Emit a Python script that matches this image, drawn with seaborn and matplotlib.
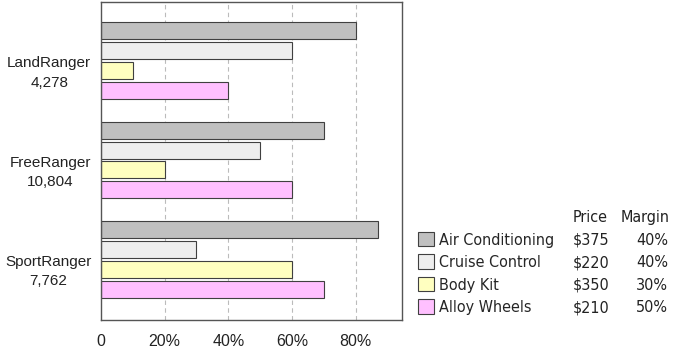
import matplotlib
matplotlib.use("Agg")
import matplotlib.pyplot as plt
from matplotlib import font_manager
from matplotlib.patches import Patch
from matplotlib.ticker import FuncFormatter
from matplotlib.transforms import ScaledTranslation
import pandas as pd
import seaborn as sns

# datos
modelos = ["LandRanger\n4,278", "FreeRanger\n10,804", "SportRanger\n7,762"]
opciones = ["Air Conditioning", "Cruise Control", "Body Kit", "Alloy Wheels"]
precios = ["$375", "$220", "$350", "$210"]
margenes = ["40%", "40%", "30%", "50%"]
land = [80, 60, 10, 40]
free = [70, 50, 20, 60]
sport = [87, 30, 60, 70]
colores = ["#c0c0c0", "#eeeeee", "#ffffc0", "#ffc0ff"]

filas = []
for modelo, vals in zip(modelos, [land, free, sport]):
    for op, v in zip(opciones, vals):
        filas.append({"modelo": modelo, "opcion": op, "valor": v})
df = pd.DataFrame(filas)

# fuente condensada si esta instalada
condensada = any(f.name == "DejaVu Sans" and f.stretch == "condensed"
                 for f in font_manager.fontManager.ttflist)

sns.set_style("white")
plt.rcParams["font.family"] = ["DejaVu Sans"]

fig = plt.figure(figsize=(6.75, 3.54), dpi=100)
ax = fig.add_axes([101 / 675, 34 / 354, 301 / 675, 318 / 354])

sns.barplot(data=df, y="modelo", x="valor", hue="opcion", hue_order=opciones,
            palette=colores, saturation=1, orient="h", width=0.8, gap=0.15,
            edgecolor="#404040", linewidth=0.8, legend=False, ax=ax)

ax.set_xlim(0, 94.6)
ax.set_ylim(2.61, -0.59)
ax.set_xticks([0, 20, 40, 60, 80])
ax.xaxis.set_major_formatter(FuncFormatter(lambda v, p: "0" if v == 0 else f"{v:.0f}%"))
for x in [20, 40, 60, 80]:
    ax.axvline(x, color="#bbbbbb", linestyle=(0, (4, 3)), linewidth=0.8, zorder=0)
ax.set_xlabel("")
ax.set_ylabel("")
ax.tick_params(axis="both", length=0, colors="#222222")
ax.tick_params(axis="x", pad=10, labelsize=11.5)
ax.tick_params(axis="y", pad=7, labelsize=11)
bajar = ScaledTranslation(0, -0.08, fig.dpi_scale_trans)
for lbl in ax.get_yticklabels():
    lbl.set_multialignment("center")
    lbl.set_family("Liberation Sans")
    lbl.set_linespacing(1.5)
    lbl.set_transform(lbl.get_transform() + bajar)
for lbl in ax.get_xticklabels():
    lbl.set_family("Liberation Sans")
for s in ax.spines.values():
    s.set_color("#555555")
    s.set_linewidth(1)

# leyenda con columnas de precio y margen
fuente = {"family": "DejaVu Sans", "size": 11.5 if condensada else 10.3}
if condensada:
    fuente["stretch"] = "condensed"
handles = [Patch(facecolor=c, edgecolor="#404040", linewidth=0.8) for c in colores]
leg = fig.legend(handles, opciones, loc="upper left",
                 bbox_to_anchor=(418 / 675, 1 - 232 / 354), frameon=False,
                 prop=fuente, handlelength=1.0, handleheight=1.0,
                 handletextpad=0.3, labelspacing=0.43, borderpad=0, borderaxespad=0)
fig.canvas.draw()
inv = fig.transFigure.inverted()
ys = []
for t in leg.get_texts():
    bb = t.get_window_extent()
    ys.append(inv.transform((0, (bb.y0 + bb.y1) / 2))[1])
for y, p, m in zip(ys, precios, margenes):
    fig.text(591 / 675, y, p, ha="center", va="center", fontproperties=fuente, color="#222222")
    fig.text(668 / 675, y, m, ha="right", va="center", fontproperties=fuente, color="#222222")
head_y = ys[0] + (ys[0] - ys[1])
fig.text(590 / 675, head_y, "Price", ha="center", va="center", fontproperties=fuente, color="#222222")
fig.text(670 / 675, head_y, "Margin", ha="right", va="center", fontproperties=fuente, color="#222222")

fig.savefig("out.png", dpi=100)
